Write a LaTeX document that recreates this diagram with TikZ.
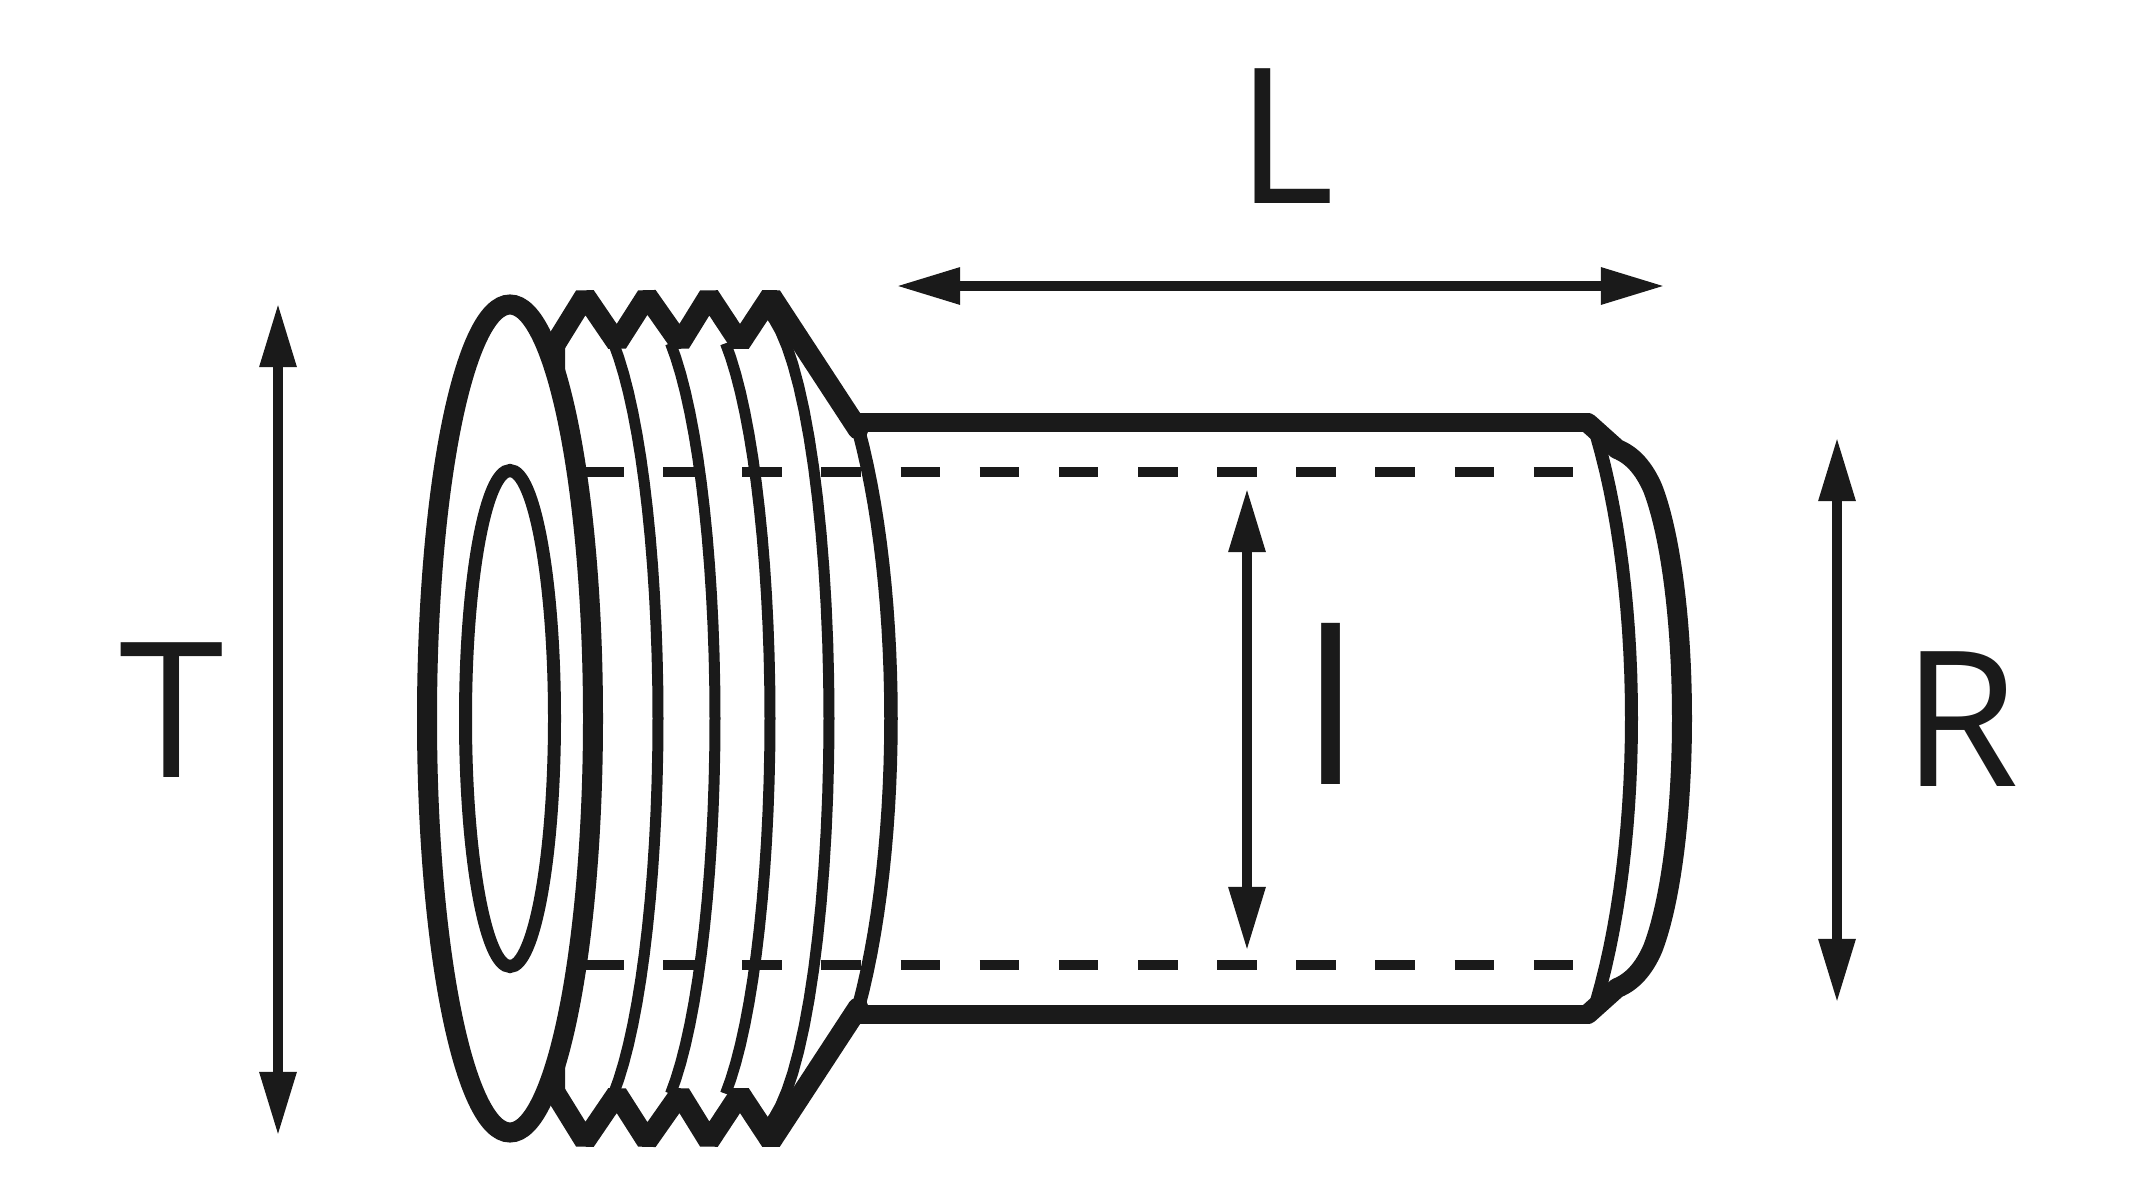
\documentclass[tikz,border=0pt]{standalone}
\usepackage{fontspec}
\setmainfont{Open Sans}
\usetikzlibrary{arrows.meta}
\definecolor{ink}{HTML}{1A1A1A}
\tikzset{
  ln/.style={draw=ink,line width=#1*0.01cm},
  zig/.style={ln=21,line join=bevel,line cap=round},
  dim/.style={ln=10.5,{Triangle[length=0.64cm,width=0.345cm]}-{Triangle[length=0.64cm,width=0.345cm]}},
  dsh/.style={ln=10,dash pattern=on 0.395cm off 0.396cm},
  letter/.style={text=ink,inner sep=0pt,anchor=base,font=\fontsize{53.7}{60}\selectfont},
}
% width, x at mid height, x radius, half angle of the arc
\newcommand{\threadarc}[4]{%
  \draw[ln=#1,line cap=butt,line join=round] plot[domain=-#4:#4,samples=31,variable=\t]
     ({#2-#3+#3*cos(\t)},{718.5+414*sin(\t)});}
\begin{document}
\begin{tikzpicture}[x=0.01cm,y=-0.01cm]
\useasboundingbox (0,0) rectangle (2133,1200);
\fill[white] (0,0) rectangle (2133,1200);
% hidden bore, dashed
\coordinate (dta) at (584,472); \coordinate (dtb) at (1573,472);
\coordinate (dba) at (584,965); \coordinate (dbb) at (1573,965);
\draw[dsh] (dta) -- (dtb);
\draw[dsh] (dba) -- (dbb);
% flange end
\draw[ln=20] (510,718.5) ellipse [x radius=83,y radius=414];
\draw[ln=13] (510,718.5) ellipse [x radius=44.5,y radius=248];
% thread flanks
\threadarc{11}{658}{77}{65}
\threadarc{11}{715}{77}{65}
\threadarc{11}{770}{77}{65}
\threadarc{11}{829}{75}{80}
\threadarc{13.5}{891}{115}{47}
% thread profile and neck edges
\draw[zig] (551,351) -- (585,296) -- (617,343) -- (647,296) -- (680,343) -- (709,296) -- (740,343) -- (771,296) -- (858,429);
\draw[zig] (551,1086) -- (585,1141) -- (617,1094) -- (647,1141) -- (680,1094) -- (709,1141) -- (740,1094) -- (771,1141) -- (858,1008);
\fill[ink] (550,338) -- (565,345) -- (565,372) -- (556,372) -- cycle;
\fill[ink] (550,1099) -- (565,1092) -- (565,1065) -- (556,1065) -- cycle;
\draw[ln=19] (852,422.5) -- (1590,422.5);
\draw[ln=19] (852,1014.5) -- (1590,1014.5);
% right end with chamfer
\draw[ln=13,line cap=butt,line join=round] plot[domain=-46:46,samples=31,variable=\t]
     ({1631.5-130+130*cos(\t)},{718.5+414*sin(\t)});
\draw[ln=20,line join=round,line cap=round] (1588,423) -- (1617,449) .. controls (1632,455) and (1644,468) .. (1653,489)
   -- plot[domain=-60:60,samples=41,variable=\t] ({1624+58*cos(\t)},{718.5+265*sin(\t)})
   .. controls (1644,969) and (1632,982) .. (1617,988) -- (1588,1014);
% dimensions
\coordinate (la) at (896,286); \coordinate (lb) at (1665,286);
\draw[dim] (la) -- (lb);
\coordinate (ta) at (278,303); \coordinate (tb) at (278,1136);
\draw[dim] (ta) -- (tb);
\coordinate (ia) at (1247,488); \coordinate (ib) at (1247,951);
\draw[dim] (ia) -- (ib);
\coordinate (ra) at (1837,437); \coordinate (rb) at (1837,1003);
\draw[dim] (ra) -- (rb);
% labels
\node[letter] (L) at (1285,203) {L};
\node[letter] (T) at (171.5,777) {T};
\node[letter,font=\fontsize{64.2}{70}\selectfont] (I) at (1331,784) {I};
\node[letter] (R) at (1961,786) {R};
\end{tikzpicture}
\end{document}
